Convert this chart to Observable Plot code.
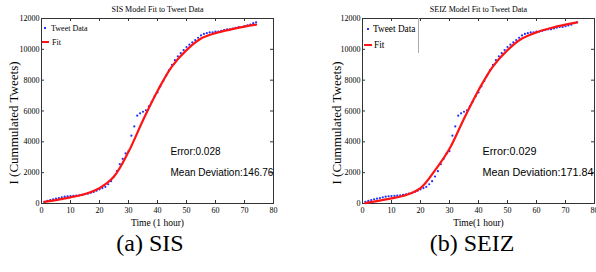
<!DOCTYPE html>
<html><head><meta charset="utf-8">
<script src="https://cdn.jsdelivr.net/npm/d3@7"></script>
<script src="https://cdn.jsdelivr.net/npm/@observablehq/plot@0.6"></script>
<style>
body{margin:0;background:#fff;width:596px;height:272px;overflow:hidden;position:relative}
.panel{position:absolute;top:0;width:298px;height:272px}
.cap{position:absolute;top:232px;width:200px;text-align:center;font-family:"Liberation Serif";font-size:24px;line-height:22px;color:#000}
.lg{position:absolute;font-family:"Liberation Serif";color:#000;white-space:nowrap}
</style></head><body>
<div id="p1" class="panel" style="left:0"></div>
<div id="p2" class="panel" style="left:298px"></div>
<script>
const hours = [1,2,3,4,5,6,7,8,9,10,11,12,13,14,15,16,17,18,19,20,21,22,23,24,25,26,27,28,29,30,31,32,33,34,35,36,37,38,39,40,41,42,43,44,45,46,47,48,49,50,51,52,53,54,55,56,57,58,59,60,61,62,63,64,65,66,67,68,69,70,71,72,73,74];
const tweets = [100,170,220,270,310,350,400,440,470,480,500,510,530,560,600,640,690,750,830,920,1000,1080,1250,1450,1750,2100,2550,2900,3250,3400,4400,5000,5700,5850,5950,6050,6300,6600,6950,7200,7600,7950,8300,8650,9000,9300,9550,9750,9950,10150,10300,10450,10600,10750,10900,11000,11050,11100,11100,11150,11150,11200,11250,11300,11300,11350,11400,11450,11450,11500,11550,11600,11700,11750];
const fitHours = [1,5,10,15,20,25,30,35,40,45,50,55,60,65,70,74];
const sisFit  = [100,220,400,620,1000,1750,3350,5400,7300,8900,9950,10700,11050,11280,11470,11600];
const seizFit = [30,150,330,550,1000,2150,3550,5500,7350,8900,9950,10700,11100,11380,11600,11750];
const xTicks = [0,10,20,30,40,50,60,70,80];
const yTicks = [0,2000,4000,6000,8000,10000,12000];
const yLabel = "I (Cummulated Tweets)";

function panel(cfg) {
  const W = 298, H = 233, mt = 18, mb = 30;
  const fw = W - cfg.ml - cfg.mr, fh = H - mt - mb;
  const data = hours.map((h, i) => ({h, v: tweets[i]}));
  const fit = fitHours.map((h, i) => ({h, v: cfg.fit[i]}));
  const ink = "#333";
  return Plot.plot({
    width: W, height: H, marginTop: mt, marginBottom: mb, marginLeft: cfg.ml, marginRight: cfg.mr,
    style: {fontFamily: "Liberation Serif", fontSize: "8px", background: "white", color: "#000"},
    x: {domain: [0, 80]}, y: {domain: [0, 12000]},
    marks: [
      Plot.frame({stroke: ink}),
      Plot.tickY(yTicks, {y: d => d, insetRight: fw - 3, stroke: ink}),
      Plot.tickY(yTicks, {y: d => d, insetLeft: fw - 3, stroke: ink}),
      Plot.tickX(xTicks, {x: d => d, insetTop: fh - 3, stroke: ink}),
      Plot.tickX(xTicks, {x: d => d, insetBottom: fh - 3, stroke: ink}),
      Plot.axisY(yTicks, {tickSize: 0, tickPadding: 2, label: null, tickFormat: d => String(d), fontSize: 8}),
      Plot.axisX(xTicks, {tickSize: 0, tickPadding: 4, label: null, tickFormat: d => String(d), fontSize: 8}),
      Plot.text([cfg.title], {frameAnchor: "top", dy: -12, fontSize: 8}),
      Plot.text([cfg.xlabel], {frameAnchor: "bottom", dy: 22, fontSize: 9.5}),
      Plot.text([yLabel], {frameAnchor: "left", rotate: -90, dx: cfg.ylx, dy: 12, fontSize: 13, textAnchor: "middle"}),
      Plot.dot(data, {x: "h", y: "v", r: 1.1, fill: "#2030ff", stroke: null}),
      Plot.line(fit, {x: "h", y: "v", stroke: "#ff1414", strokeWidth: 2.2, curve: "catmull-rom"}),
      Plot.text([cfg.err], {frameAnchor: "top-left", dx: cfg.ax, dy: 129, fontFamily: "Liberation Sans", fontSize: cfg.afs, textAnchor: "start"}),
      Plot.text([cfg.dev], {frameAnchor: "top-left", dx: cfg.ax, dy: 150, fontFamily: "Liberation Sans", fontSize: cfg.afs, textAnchor: "start"})
    ]
  });
}

function legend(host, L) {
  const add = (html, css) => { const d = document.createElement("div"); d.className = "lg"; d.style.cssText = css; d.innerHTML = html; host.appendChild(d); };
  add("", `left:${L.dotX}px;top:${L.dotY}px;width:2px;height:2px;background:#2030ff`);
  add("Tweet Data", `left:${L.t1X}px;top:${L.dotY - 4.5}px;font-size:${L.fs}px;line-height:11px`);
  add("", `left:${L.lnX}px;top:${L.lnY}px;width:${L.lnW}px;height:2.4px;background:#ff1414`);
  add("Fit", `left:${L.t2X}px;top:${L.lnY - 4.5}px;font-size:${L.fs}px;line-height:11px`);
  if (L.box) add("", `left:${L.box}px;top:18px;width:0;height:35px;border-left:1px solid #aaa`);
}

const p1 = document.getElementById("p1");
p1.appendChild(panel({ml: 41, mr: 25, fit: sisFit, title: "SIS Model Fit to Tweet Data", xlabel: "Time (1 hour)", ylx: -28, ax: 129, afs: 10, err: "Error:0.028", dev: "Mean Deviation:146.76"}));
legend(p1, {dotX: 44, dotY: 27, t1X: 51, lnX: 42, lnY: 41, lnW: 7, t2X: 52, fs: 8});
const c1 = document.createElement("div"); c1.className = "cap"; c1.style.left = "50px"; c1.textContent = "(a) SIS"; p1.appendChild(c1);

const p2 = document.getElementById("p2");
p2.appendChild(panel({ml: 64, mr: 2, fit: seizFit, title: "SEIZ Model Fit to Tweet Data", xlabel: "Time(1 hour)", ylx: -26, ax: 120, afs: 10.8, err: "Error:0.029", dev: "Mean Deviation:171.84"}));
legend(p2, {dotX: 69, dotY: 28, t1X: 75, lnX: 66, lnY: 44, lnW: 8, t2X: 76, fs: 9.3, box: 120});
const c2 = document.createElement("div"); c2.className = "cap"; c2.style.left = "74px"; c2.textContent = "(b) SEIZ"; p2.appendChild(c2);
</script></body></html>
